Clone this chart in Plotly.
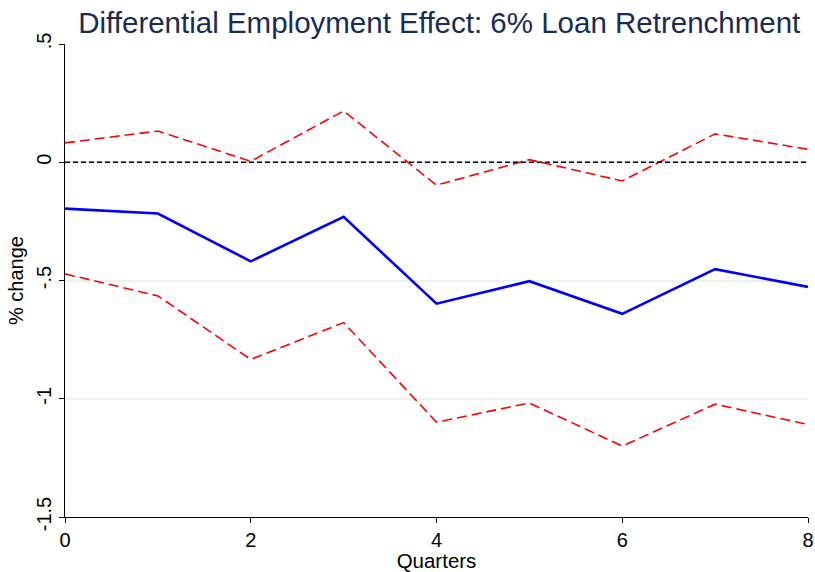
import plotly.graph_objects as go

quarters = [0, 1, 2, 3, 4, 5, 6, 7, 8]
effect = [-0.196, -0.217, -0.419, -0.231, -0.598, -0.503, -0.641, -0.452, -0.527]
upper_ci = [0.082, 0.132, 0.004, 0.217, -0.097, 0.011, -0.079, 0.120, 0.055]
lower_ci = [-0.472, -0.565, -0.834, -0.678, -1.099, -1.018, -1.200, -1.023, -1.109]

y_tickvals = [0.5, 0, -0.5, -1, -1.5]
y_ticktext = [".5", "0", "-.5", "-1", "-1.5"]
x_tickvals = [0, 2, 4, 6, 8]

FONT = "Liberation Sans, Arial, sans-serif"

fig = go.Figure()
fig.add_hline(y=0, line=dict(color="black", width=1.5, dash="5px,3px"))
fig.add_trace(go.Scatter(x=quarters, y=upper_ci, mode="lines",
                         line=dict(color="#ff0000", width=1.6, dash="10px,5px"), showlegend=False))
fig.add_trace(go.Scatter(x=quarters, y=lower_ci, mode="lines",
                         line=dict(color="#ff0000", width=1.6, dash="10px,5px"), showlegend=False))
fig.add_trace(go.Scatter(x=quarters, y=effect, mode="lines",
                         line=dict(color="#0000ff", width=2.6), showlegend=False))

fig.update_layout(
    width=815, height=572,
    margin=dict(l=65, r=7, t=44, b=55, autoexpand=False),
    paper_bgcolor="white", plot_bgcolor="white",
    font=dict(family=FONT, color="black"),
    title=dict(text="Differential Employment Effect: 6% Loan Retrenchment",
               x=0.539, xanchor="center", y=0.961, yanchor="middle",
               font=dict(size=29.5, color="#1c2b52", family=FONT)),
    xaxis=dict(range=[0, 8], tickvals=x_tickvals, ticks="outside", ticklen=5,
               tickcolor="black", showline=True, linecolor="black", linewidth=1,
               showgrid=False, zeroline=False, automargin=False,
               tickfont=dict(size=20),
               title=dict(text="Quarters", font=dict(size=20.5), standoff=2)),
    yaxis=dict(range=[-1.5, 0.5], tickvals=y_tickvals, ticktext=y_ticktext,
               tickangle=-90, ticks="outside", ticklen=5, tickcolor="black",
               showline=True, linecolor="black", linewidth=1, automargin=False,
               showgrid=True, gridcolor="#eaf2f3", gridwidth=1.5, zeroline=False,
               tickfont=dict(size=20),
               title=dict(text="% change", font=dict(size=20), standoff=4)),
)

fig.write_html("out.html")
